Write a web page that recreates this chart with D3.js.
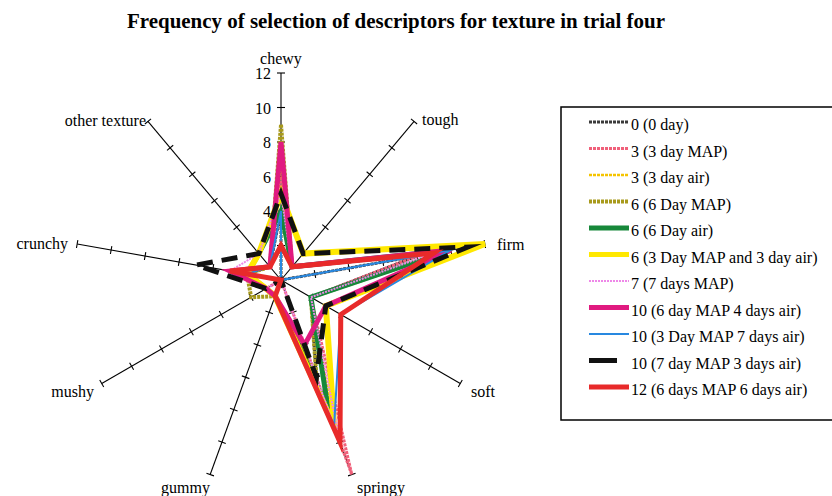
<!DOCTYPE html>
<html><head><meta charset="utf-8">
<script src="https://cdn.jsdelivr.net/npm/d3@7"></script>
<style>
html,body{margin:0;padding:0;background:#fff;}
svg{display:block;font-family:"Liberation Serif","Times New Roman",serif;}
</style></head>
<body>
<svg id="chart" width="832" height="496"></svg>
<script>
// ---- data ----
const axes = ["chewy","tough","firm","soft","springy","gummy","mushy","crunchy","other texture"];
const tickValues = [2,4,6,8,10,12];
const tickLabels = [4,6,8,10,12];
const seriesNames = [
  "0 (0 day)","3 (3 day MAP)","3 (3 day air)","6 (6 Day MAP)","6 (6 Day air)",
  "6 (3 Day MAP and 3 day air)","7 (7 days MAP)","10 (6 day MAP 4 days air)",
  "10 (3 Day MAP 7 days air)","10 (7 day MAP 3 days air)","12 (6 days MAP 6 days air)"
];
const day0      = [4,0,8,2,6,1,1,2,1];
const day3MAP   = [6,1,8,2,12,0,1,3,1];
const day3air   = [7,1,10,2,9,1,1,2,1];
const day6MAP   = [9,1,10,2,6,1,2,2,1];
const day6air   = [4,1,10,2,8,1,1,2,2];
const day3M3A   = [5,2,12,3,9,1,1,2,2];
const day7MAP   = [5,1,9,2,10,0,1,3,2];
const day6M4A   = [8,1,10,3,4,1,1,3,1];
const day3M7A   = [4,0,10,4,9,1,0,2,1];
const day7M3A   = [5,2,11,3,6,0,1,5,2];
const day6M6A   = [2,1,9,4,10,1,0,3,1];
const seriesValues = [day0,day3MAP,day3air,day6MAP,day6air,day3M3A,day7MAP,day6M4A,day3M7A,day7M3A,day6M6A];

// ---- styles ----
const styles = [
  {c:"#3a3a3a", w:3, dash:"3,1"},
  {c:"#f0607a", w:3, dash:"3,1"},
  {c:"#f5c400", w:2.5, dash:"3,1"},
  {c:"#a89a1c", w:4, dash:"3,1"},
  {c:"#17883a", w:5, dash:null},
  {c:"#ffe800", w:6, dash:null},
  {c:"#ee88e8", w:2, dash:"2,1"},
  {c:"#e01a80", w:5, dash:null},
  {c:"#2888e0", w:2, dash:null},
  {c:"#111111", w:5, dash:"16,9"},
  {c:"#e82a2a", w:5, dash:null}
];

const svg = d3.select("#chart");
const cx = 281, cy = 280, R = 207;
const r = d3.scaleLinear().domain([0,12]).range([0,R]);
const ang = d3.scaleLinear().domain([0,axes.length]).range([0,2*Math.PI]);
const pt = (i,v) => [cx + r(v)*Math.sin(ang(i)), cy - r(v)*Math.cos(ang(i))];

// title
svg.append("text").attr("x",396).attr("y",28).attr("text-anchor","middle")
  .attr("font-size",21).attr("font-weight","bold")
  .attr("textLength",538).attr("lengthAdjust","spacingAndGlyphs")
  .text("Frequency of selection of descriptors for texture in trial four");

// axes
const g = svg.append("g");
axes.forEach((a,i)=>{
  const e = pt(i,12);
  g.append("line").attr("x1",cx).attr("y1",cy).attr("x2",e[0]).attr("y2",e[1])
    .attr("stroke","#000").attr("stroke-width",1.1);
  const th = ang(i);
  const px = Math.cos(th), py = Math.sin(th); // perpendicular
  tickValues.forEach(t=>{
    const p = pt(i,t);
    g.append("line").attr("x1",p[0]-4*px).attr("y1",p[1]-4*py)
      .attr("x2",p[0]+4*px).attr("y2",p[1]+4*py)
      .attr("stroke","#000").attr("stroke-width",1.1);
  });
});

// axis labels
const labelPos = [
  {x:281,y:64,a:"middle"},
  {x:422,y:125,a:"start"},
  {x:497,y:250,a:"start"},
  {x:471,y:397,a:"start"},
  {x:357,y:493,a:"start"},
  {x:210,y:493,a:"end"},
  {x:94,y:397,a:"end"},
  {x:68,y:249,a:"end"},
  {x:146,y:126,a:"end"}
];
axes.forEach((a,i)=>{
  svg.append("text").attr("x",labelPos[i].x).attr("y",labelPos[i].y)
    .attr("text-anchor",labelPos[i].a).attr("font-size",16).text(a);
});

// tick labels on chewy axis
tickLabels.forEach(t=>{
  const p = pt(0,t);
  svg.append("text").attr("x",p[0]-10).attr("y",p[1]+6)
    .attr("text-anchor","end").attr("font-size",16).text(t);
});

// series
const line = d3.lineRadial()
  .angle((d,i)=>ang(i)).radius(d=>r(d)).curve(d3.curveLinearClosed);
const sg = svg.append("g").attr("transform",`translate(${cx},${cy})`);
seriesValues.forEach((vals,k)=>{
  const s = styles[k];
  sg.append("path").attr("d",line(vals)).attr("fill","none")
    .attr("stroke",s.c).attr("stroke-width",s.w)
    .attr("stroke-linejoin","miter").attr("stroke-miterlimit",6)
    .attr("stroke-dasharray",s.dash);
});

// legend
const lg = svg.append("g");
lg.append("rect").attr("x",561).attr("y",107).attr("width",300).attr("height",313)
  .attr("fill","none").attr("stroke","#000").attr("stroke-width",1.5);
const ly = d3.scaleLinear().domain([0,seriesNames.length-1]).range([125,390]);
seriesNames.forEach((n,k)=>{
  const s = styles[k];
  const y = ly(k);
  lg.append("line").attr("x1",589).attr("x2",k===9?617:629).attr("y1",y-3).attr("y2",y-3)
    .attr("stroke",s.c).attr("stroke-width",Math.min(s.w,5))
    .attr("stroke-dasharray",k===9?null:s.dash);
  lg.append("text").attr("x",631).attr("y",y+5).attr("font-size",16).text(n);
});
</script>
</body></html>
